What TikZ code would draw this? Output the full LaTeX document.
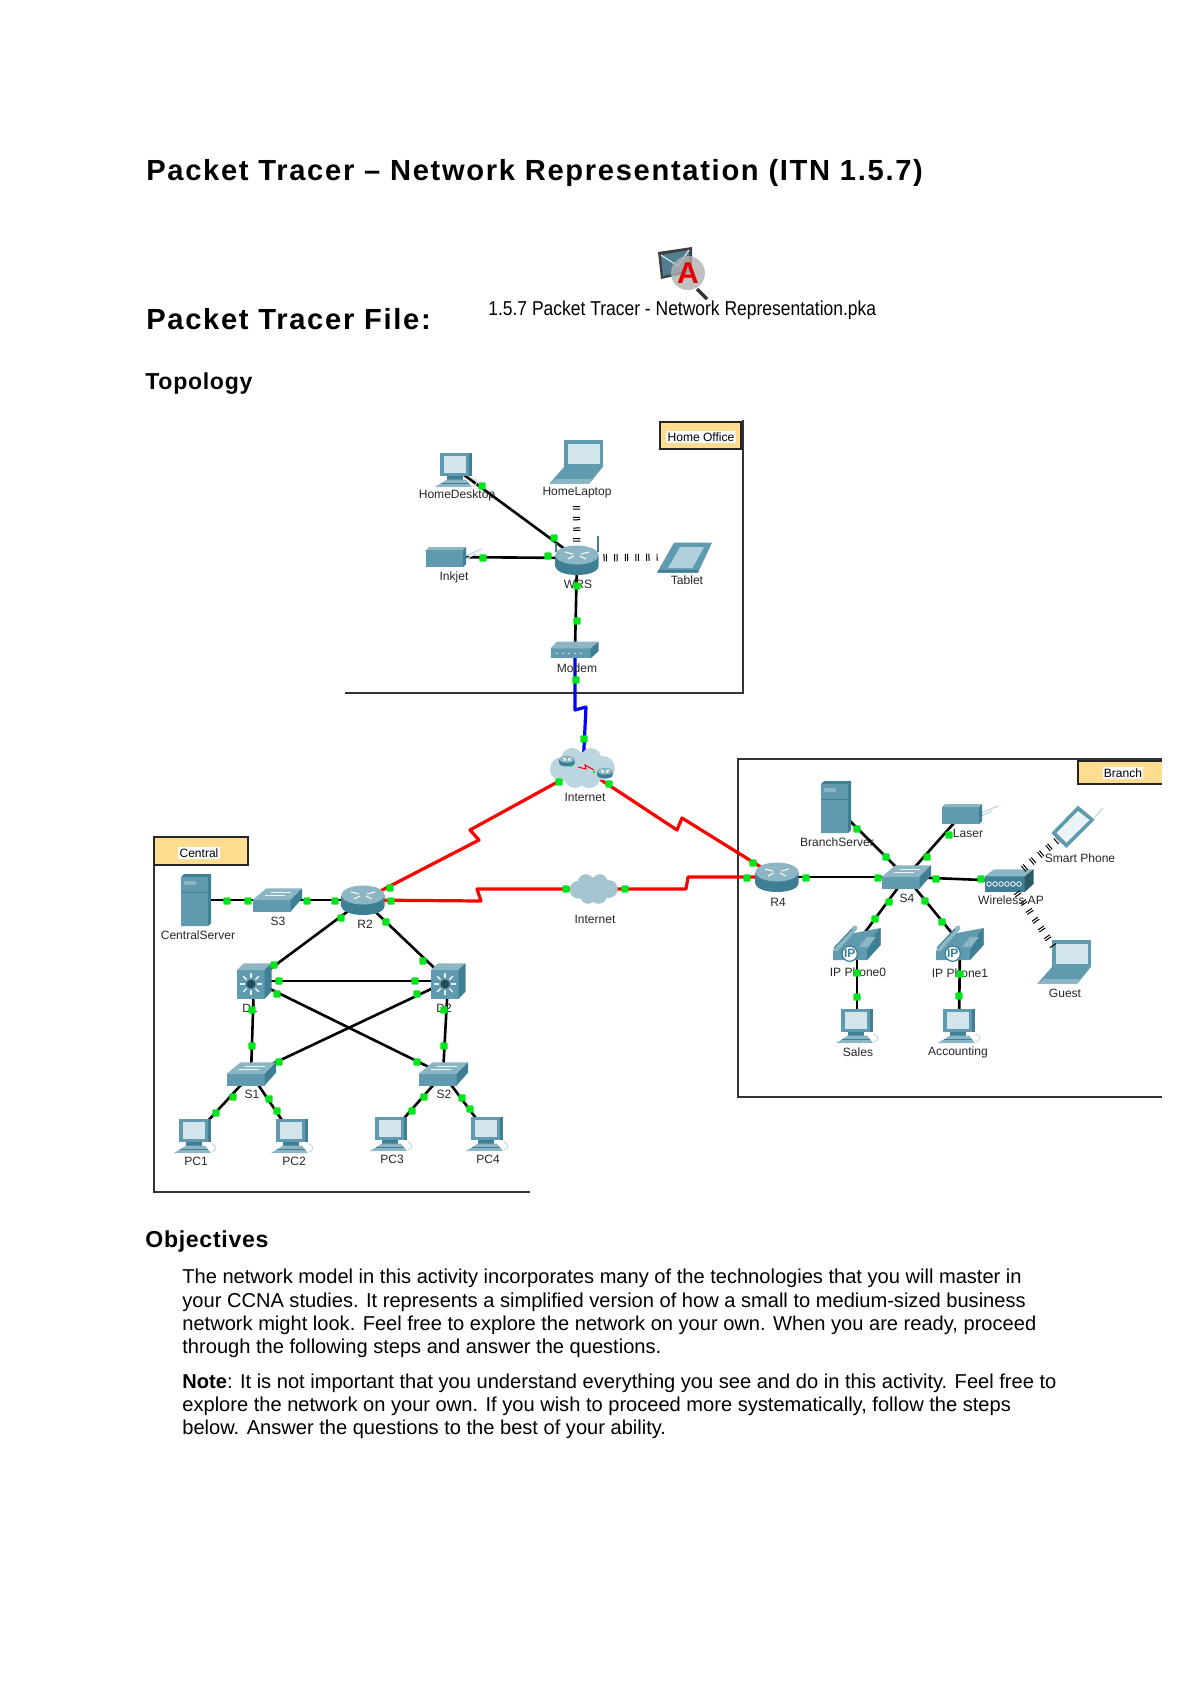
\documentclass[tikz,border=0pt]{standalone}
\usepackage{fontspec}
\setmainfont{Liberation Sans}
\usetikzlibrary{backgrounds}
\definecolor{iconfront}{HTML}{5F9AAE}
\definecolor{icontop}{HTML}{8DB6C4}
\definecolor{iconside}{HTML}{3F7F95}
\definecolor{iconscreen}{HTML}{D3E5EC}
\definecolor{iconpale}{HTML}{EAF3F6}
\definecolor{boxorange}{HTML}{FFDC8F}
\definecolor{portgreen}{HTML}{00E61A}
\tikzset{
  dev/.style={inner sep=0pt,minimum size=0pt},
  lbl/.style={font=\fontsize{6}{7}\selectfont,text=black!85,inner sep=0pt},
  tag/.style={font=\fontsize{6}{7}\selectfont,fill=white,inner sep=.6pt},
  frame/.style={black!80,line width=.8pt},
  tagbox/.style={draw=black!85,line width=.8pt,fill=boxorange},
  link/.style={line width=1.3pt,black},
  wan/.style={line width=1.6pt,red,line join=round},
  dsl/.style={line width=1.6pt,blue,line join=round},
  wifi/.style={line width=3.6pt,black,dash pattern=on .5pt off .7pt on .5pt off 3.6pt},
  port/.style={fill=portgreen,inner sep=0pt,minimum size=3.6pt,rounded corners=.5pt},
  para/.style={anchor=base west,font=\fontsize{10}{12}\selectfont,inner sep=0pt},
  head/.style={anchor=base west,inner sep=0pt},
  router/.pic={
    \shade[left color=iconside,middle color=iconpale,right color=iconside]
      (-21.5,-5)--(-21.5,6) .. controls (-21.5,18) and (21.5,18) .. (21.5,6)--(21.5,-5)--cycle;
    \fill[icontop](0,-5)ellipse(21.5 and 9.5);
    \draw[white,line width=.5pt](-12,-8)--(-4,-6)(12,-8)--(4,-6)(-9,-1)--(-3,-4)(9,-1)--(3,-4);
  },
  wirelessrouter/.pic={
    \draw[iconside,line width=1pt](-21,-8)--(-21,-17)(21,-8)--(21,-24);
    \pic{router};
  },
  switchbox/.pic={
    \fill[iconfront](-24.5,0)rectangle(13.5,11.7);
    \fill[icontop](-24.5,0)--(-10.5,-11.7)--(25,-11.7)--(13.5,0)--cycle;
    \fill[iconside](13.5,0)--(25,-11.7)--(25,-1.5)--(13.5,11.7)--cycle;
    \draw[iconpale,line width=.3pt](-12,-5)--(8,-5)(-6,-8)--(14,-8);
  },
  multilayer/.pic={
    \fill[iconfront](-17,-11)rectangle(10.5,18);
    \fill[icontop](-17,-11)--(-10,-17.7)--(17.5,-17.7)--(10.5,-11)--cycle;
    \fill[iconside](10.5,-11)--(17.5,-17.7)--(17.5,10.5)--(10.5,18)--cycle;
    \foreach \a in {0,45,...,315}
      \draw[iconpale,line width=.7pt](-3,3)++(\a:6)--++(\a:5);
    \fill[iconside!60!black](-3,3)circle(4.5);
  },
  pcbox/.pic={
    \fill[iconside](-15.7,-16)rectangle(15.7,7);
    \fill[iconfront](-15.7,-16)rectangle(12.5,7);
    \fill[iconscreen](-12.5,-13)rectangle(9.5,3.5);
    \fill[iconside](-9,7)rectangle(7,10.5);
    \fill[icontop](-9,10.5)--(10,10.5)--(16,18)--(-21,18)--cycle;
    \draw[iconside,line width=.4pt](-15,14)--(13,14);
    \draw[iconpale!70!iconfront,line width=.5pt](17,17)..controls(22,16)and(22,11)..(17,9);
  },
  laptop/.pic={
    \fill[iconfront](-12,-21.7)rectangle(26.7,5);
    \fill[iconscreen](-8.5,-18.5)rectangle(23.5,1.5);
    \fill[iconfront](-12,5)--(26.7,5)--(13.3,21.7)--(-26.7,21.7)--cycle;
    \fill[icontop](-20,17)--(16,17)--(13.3,21.7)--(-26.7,21.7)--cycle;
  },
  serverbox/.pic={
    \fill[iconside](-15,-23)--(-12,-26)--(15,-26)--(15,23)--(12,26)--(-15,26)--cycle;
    \fill[iconfront](-15,-23)rectangle(12,26);
    \fill[icontop](-12,-19)rectangle(0,-15);
    \draw[iconside,line width=.3pt](-15,-8)--(12,-8);
  },
  printer/.pic={
    \draw[iconpale!70!iconfront,line width=.6pt](19,-1)--(36,-8)(19,2)--(30,-3);
    \fill[iconfront](-20,-7)rectangle(17,10);
    \fill[icontop](-20,-7)--(-17,-10)--(20,-10)--(17,-7)--cycle;
    \fill[iconside](17,-7)--(20,-10)--(20,7)--(17,10)--cycle;
  },
  tablet/.pic={
    \fill[iconfront](-27,15.7)--(-10,-14.3)--(28,-14.3)--(14,15.7)--cycle;
    \fill[iconside](-27,15.7)--(14,15.7)--(14,13)--(-25,13)--cycle;
    \fill[iconscreen!70!iconfront](-16,11)--(-4,-10)--(20,-10)--(8.5,11)--cycle;
  },
  modem/.pic={
    \fill[iconfront](-24.3,-1.7)rectangle(15.7,8.3);
    \fill[icontop](-24.3,-1.7)--(-18.3,-8.3)--(23.7,-8.3)--(15.7,-1.7)--cycle;
    \fill[iconside](15.7,-1.7)--(23.7,-8.3)--(23.7,1)--(15.7,8.3)--cycle;
    \foreach \x in {-18,-12,-6,0,6}
      \fill[white](\x,3.3)circle(.8);
  },
  accesspoint/.pic={
    \fill[iconside](-24.3,-4.7)rectangle(15.7,11);
    \fill[icontop](-24.3,-4.7)--(-15,-11.7)--(24.5,-11.7)--(15.7,-4.7)--cycle;
    \fill[iconside!70!black](15.7,-4.7)--(24.5,-11.7)--(24.5,3)--(15.7,11)--cycle;
    \foreach \x in {-20,-14,-8,-2,4,10}
      \draw[white,line width=.4pt](\x,3)circle(2.3);
  },
  smartphone/.pic={
    \draw[iconpale!70!iconfront,line width=.6pt](21,-9)--(30,-19);
    \fill[iconfront](-21.7,6)--(5,-21.3)--(21.7,-7.3)--(-6.7,21)--cycle;
    \fill[iconpale](-16.5,6)--(5,-16)--(16.5,-7)--(-6.5,15.5)--cycle;
  },
  ipphone/.pic={
    \fill[iconfront](-24,8)--(-8,-9)--(23.5,-15)--(23.5,2)--(10,17)--(-24,17)--cycle;
    \fill[iconside](10,17)--(23.5,2)--(23.5,-15)--(19,-10)--(10,8)--cycle;
    \fill[icontop](2,4)--(10,-6)--(19,-6)--(11,4)--cycle;
    \draw[icontop,line width=2.4pt,line cap=round](-21,6)--(-2,-15);
    \draw[iconside,line width=.5pt](-23,5)--(-5,-14);
    \node[circle,draw=iconside,fill=white,line width=.6pt,inner sep=0pt,minimum size=7.6pt,
      font=\fontsize{6}{7}\bfseries\selectfont,text=iconside](ipmark) at (-7.3,10.7){IP};
  },
  pics/cloudy/.style={code={
    \fill[#1](-11,-9)circle(11)(8,-10)circle(10)(20,0)circle(12)(6,8)circle(12)
      (-8,9)circle(11)(-21,1)circle(12)(0,0)circle(16);
  }},
}
\newfontfamily\widebold[LetterSpace=5.8]{Liberation Sans Bold}
\newfontfamily\midbold[LetterSpace=3]{Liberation Sans Bold}
\begin{document}
\begin{tikzpicture}[x=0.0175cm,y=-0.0175cm]
  \useasboundingbox(0,0)rectangle(1200,1698);
  % headings
  \node[head,font=\widebold\fontsize{14.5}{16}\selectfont](title)at(146,180){Packet Tracer – Network Representation (ITN 1.5.7)};
  \node[head,font=\widebold\fontsize{14.5}{16}\selectfont](filehead)at(146,329){Packet Tracer File:};
  \node[para,xscale=.87,transform shape](filename)at(488,315){1.5.7 Packet Tracer - Network Representation.pka};
  \node[head,font=\midbold\fontsize{11.5}{13}\selectfont](topology)at(145,389){Topology};
  \node[head,font=\midbold\fontsize{11.5}{13}\selectfont](objectives)at(145,1247){Objectives};
  % packet tracer activity icon
  \fill[black!75](658,252)--(692,247)--(692,272)--(661,279)--cycle;
  \fill[iconside!70!gray](661,255)--(689,250)--(689,270)--(663,276)--cycle;
  \draw[iconpale,line width=.5pt](661,255)--(678,266)--(689,250);
  \fill[black!30,opacity=.8](688,273)circle(17);
  \draw[black!80,line width=1.6pt](697,289)--(707,299);
  \node[inner sep=0pt,font=\fontsize{15}{16}\bfseries\selectfont,text=red!90!black](pkaA)at(688,273){A};
  % the three areas
  \begin{scope}[on background layer]
    \draw[frame](345,693)--(743,693)--(743,420);
    \draw[frame](530,1192)--(154,1192)--(154,837);
    \draw[frame](1162,1097)--(738,1097)--(738,759)--(1162,759);
  \end{scope}
  \draw[tagbox](660,422)rectangle(741,449);
  \draw[tagbox](154,837)rectangle(248,865);
  \draw[tagbox](1162,784)--(1078,784)--(1078,761)--(1162,761);
  \node[tag](tagHome)at(701,437){Home Office};
  \node[tag](tagCentral)at(199,853){Central};
  \node[tag](tagBranch)at(1123,773){Branch};
  % devices
  \foreach \n/\x/\y in {r2/363/900,r4/777/877}{
    \node[dev](\n)at(\x,\y){};\pic at(\n){router};}
  \node[dev](wrs)at(577,558){};\pic at(577,560){wirelessrouter};
  \foreach \n/\x/\y in {s3/277/900,s1/251/1074,s2/443/1074,s4/906/877}{
    \node[dev](\n)at(\x,\y){};\pic at(\n){switchbox};}
  \foreach \n/\x/\y in {d1/254/981,d2/448/981}{
    \node[dev](\n)at(\x,\y){};\pic at(\n){multilayer};}
  \foreach \n/\x/\y in {desktop/456/469,pc1/195/1135,pc2/292/1135,pc3/391/1133,pc4/487/1133,sales/857/1025,accounting/959/1025}{
    \node[dev](\n)at(\x,\y){};\pic at(\n){pcbox};}
  \foreach \n/\x/\y in {homelaptop/576/462,guest/1064/962}{
    \node[dev](\n)at(\x,\y){};\pic at(\n){laptop};}
  \foreach \n/\x/\y in {central/196/900,branch/836/807}{
    \node[dev](\n)at(\x,\y){};\pic at(\n){serverbox};}
  \foreach \n/\x/\y in {inkjet/446/557,laser/962/814}{
    \node[dev](\n)at(\x,\y){};\pic at(\n){printer};}
  \foreach \n/\x/\y in {phone0/857/943,phone1/960/943}{
    \node[dev](\n)at(\x,\y){};\pic at(\n){ipphone};}
  \node[dev](tablet)at(684,557){};\pic at(tablet){tablet};
  \node[dev](modem)at(575,650){};\pic at(modem){modem};
  \node[dev](wap)at(1009,881){};\pic at(wap){accesspoint};
  \node[dev](smart)at(1073,827){};\pic at(smart){smartphone};
  \node[dev](cloudA)at(583,768){};\pic at(cloudA){cloudy={iconscreen!80!iconfront}};
  \node[dev](cloudB)at(594,889){};\pic[scale=.74]at(cloudB){cloudy={icontop!80!white}};
  % inside the upper cloud
  \pic[scale=.36]at(567,761){router};
  \pic[scale=.36]at(605,773){router};
  \draw[red,line width=.5pt](578,767)--(586,769)--(585,765)--(594,770);
  % links
  \begin{scope}[on background layer]
    \foreach \a/\b in {desktop/wrs,inkjet/wrs,wrs/modem,central/s3,s3/r2,r2/d1,r2/d2,d1/d2,d1/s2,d2/s1,d1/s1,d2/s2,
        s1/pc1,s1/pc2,s2/pc3,s2/pc4,r4/s4,branch/s4,laser/s4,s4/wap,s4/phone0,s4/phone1,phone0/sales,phone1/accounting}
      \draw[link](\a)--(\b);
    \draw[dsl](modem)--(575,710)--(586,707)--(cloudA);
    \draw[wan](r2)--(479,840)--(470,830)--(cloudA);
    \draw[wan](cloudA)--(677,830)--(682,818)--(r4);
    \draw[wan](r2)--(481,901)--(477,889)--(cloudB);
    \draw[wan](cloudB)--(686,889)--(688,877)--(r4);
  \end{scope}
  \draw[wifi,shorten <=8pt,shorten >=19pt](wrs)--(homelaptop);
  \draw[wifi,shorten <=13pt,shorten >=13pt](wrs)--(tablet);
  \draw[wifi,shorten <=9pt,shorten >=9.7pt](wap)--(smart);
  \draw[wifi,shorten <=6.6pt,shorten >=9pt](wap)--(guest);
  % device names
  \foreach \n/\x/\y/\t in {desktop/457/495/HomeDesktop,homelaptop/577/493/HomeLaptop,inkjet/454/577/Inkjet,wrs/578/584/WRS,
      tablet/687/580/Tablet,modem/577/668/Modem,cloudA/585/797/Internet,cloudB/595/919/Internet,central/198/935/CentralServer,
      s3/278/921/S3,r2/365/924/R2,d1/250/1008/D1,d2/444/1008/D2,s1/252/1094/S1,s2/444/1094/S2,pc1/196/1161/PC1,pc2/294/1161/PC2,
      pc3/392/1159/PC3,pc4/488/1159/PC4,branch/837/842/BranchServer,laser/968/833/Laser,s4/907/898/S4,wap/1011/900/Wireless AP,
      smart/1080/858/Smart Phone,guest/1065/993/Guest,r4/778/902/R4,phone0/858/972/IP Phone0,phone1/960/973/IP Phone1,
      sales/858/1052/Sales,accounting/958/1052/Accounting}
    \node[lbl](\n-name)at(\x,\y){\t};
  % green link lights
  \foreach \x/\y [count=\i] in {482/486,554/538,483/558,548/556,577/586,577/621,576/680,584/739,559/782,609/784,
      227/901,248/901,307/901,335/901,341/918,274/965,386/922,423/961,279/981,415/981,277/994,417/1062,417/994,279/1062,
      252/1010,252/1046,444/1010,444/1046,233/1097,216/1113,269/1099,277/1111,424/1097,412/1111,462/1098,470/1109,
      390/888,391/901,566/889,625/889,753/863,747/878,806/878,878/878,857/829,886/857,949/835,927/857,936/879,981/879,
      889/902,875/919,925/901,942/922,857/973,857/997,960/974,959/996}
    \node[port](port\i)at(\x,\y){};
  \foreach \x/\y [count=\i] in {571/766,594/772}
    \node[port,minimum size=1.2pt](mini\i)at(\x,\y){};
  % objectives text
  \node[para](obj1)at(182,1283){The network model in this activity incorporates many of the technologies that you will master in};
  \node[para](obj2)at(182,1307){your CCNA studies. It represents a simplified version of how a small to medium-sized business};
  \node[para](obj3)at(182,1330){network might look. Feel free to explore the network on your own. When you are ready, proceed};
  \node[para](obj4)at(182,1353){through the following steps and answer the questions.};
  \node[para](note1)at(182,1388){\textbf{Note}: It is not important that you understand everything you see and do in this activity. Feel free to};
  \node[para](note2)at(182,1411){explore the network on your own. If you wish to proceed more systematically, follow the steps};
  \node[para](note3)at(182,1434){below. Answer the questions to the best of your ability.};
\end{tikzpicture}
\end{document}
